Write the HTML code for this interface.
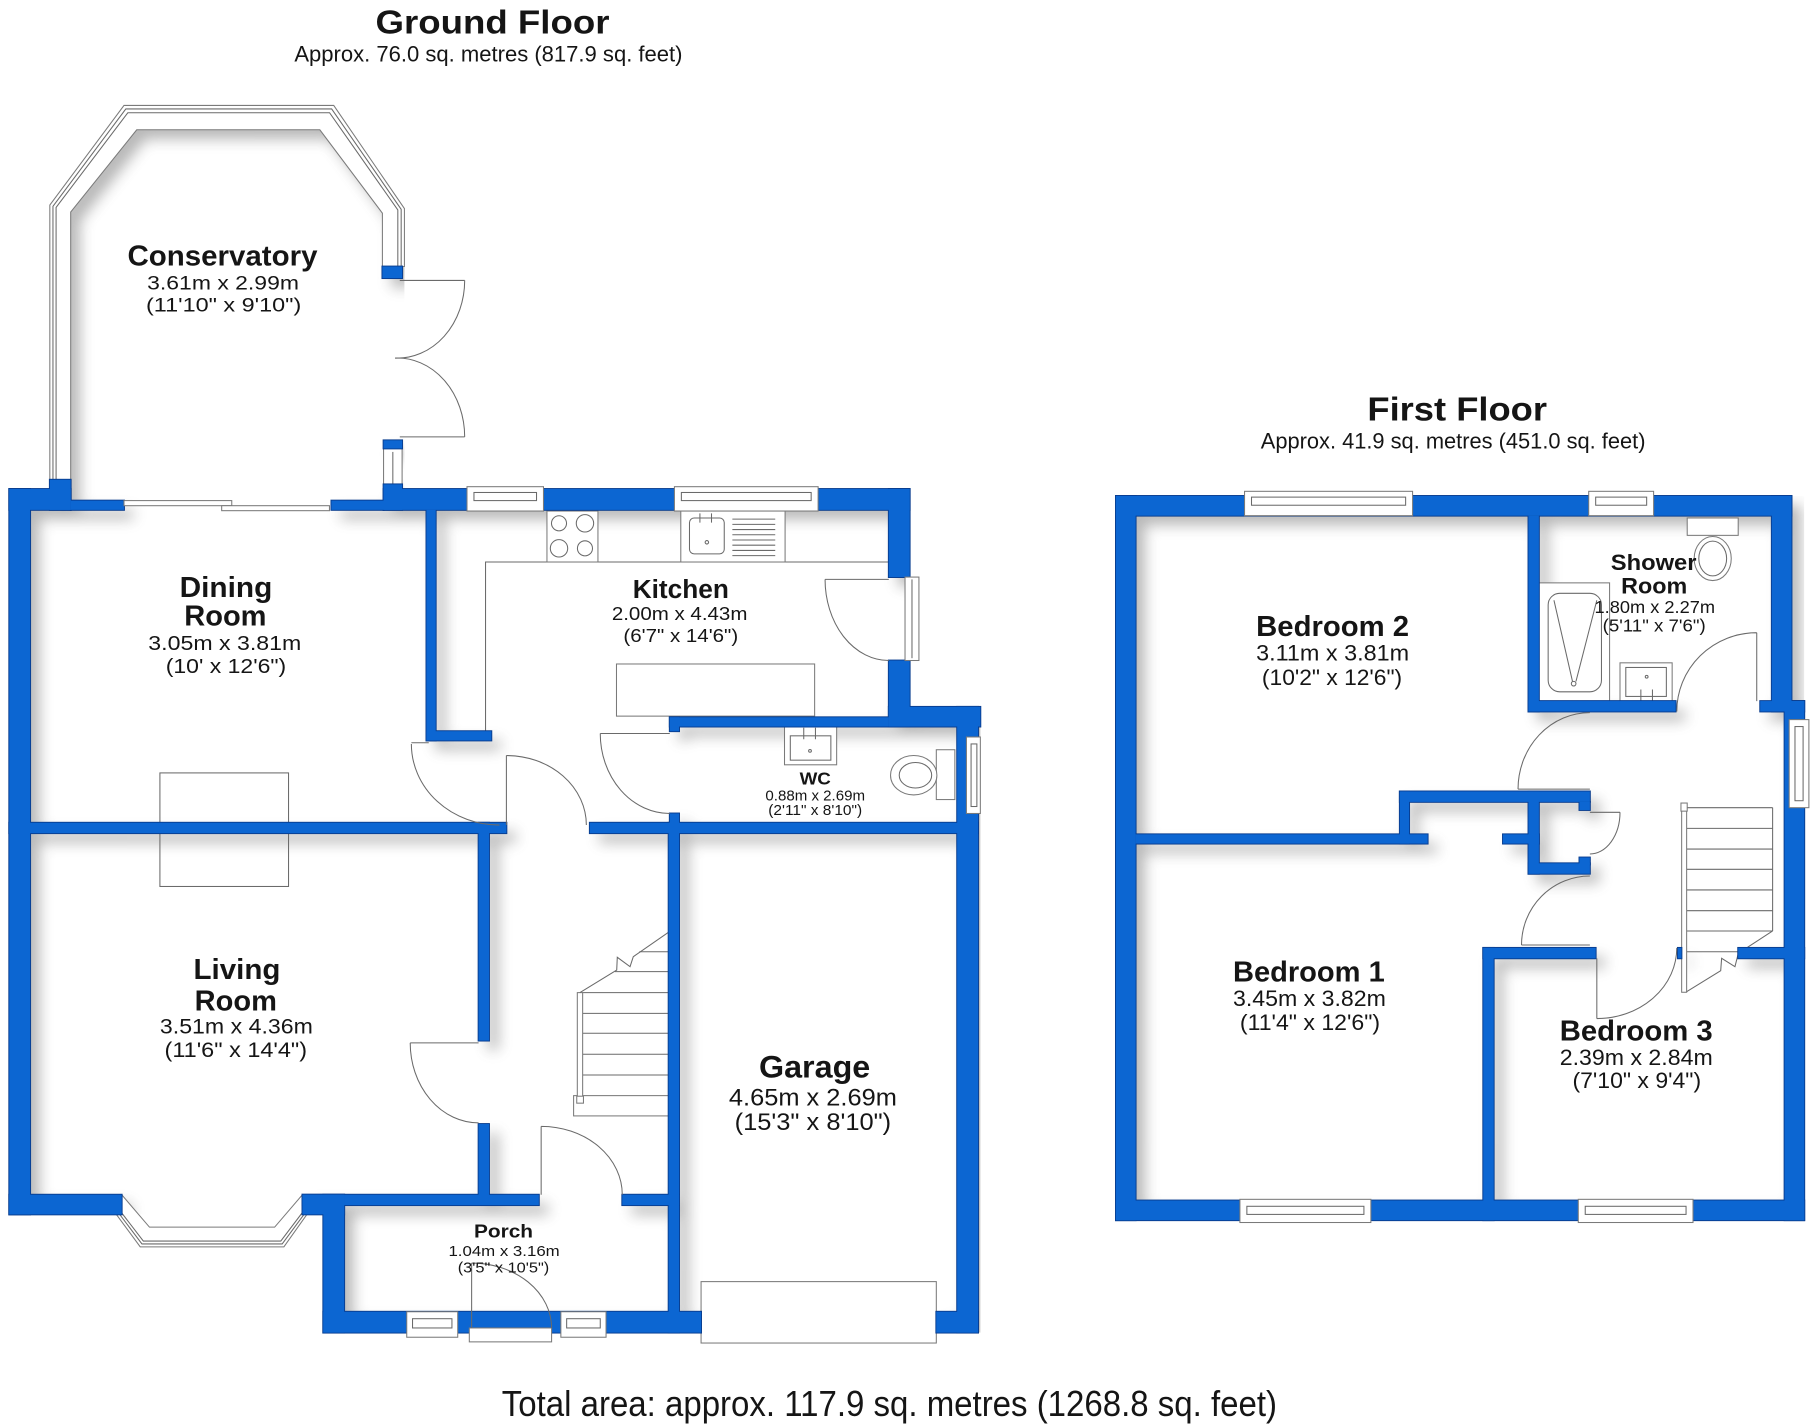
<!DOCTYPE html>
<html><head><meta charset="utf-8"><style>
html,body{margin:0;padding:0;background:#fff}
svg{display:block}
text{font-family:"Liberation Sans Narrow","Liberation Sans",sans-serif;fill:#151515}
.b{font-weight:bold}
.ln{fill:none;stroke:#6a6a6a;stroke-width:0.9}
.wf{fill:#fff;stroke:#7a7a7a;stroke-width:0.9}
</style></head><body>
<svg width="1817" height="1426" viewBox="0 0 1568 1230.6" preserveAspectRatio="none" xmlns="http://www.w3.org/2000/svg" xmlns:xlink="http://www.w3.org/1999/xlink">
<defs>
<filter id="bl" x="-10%" y="-10%" width="120%" height="120%"><feGaussianBlur stdDeviation="6"/></filter>
<clipPath id="cl">
<polygon points="8,422 785,422 785,610 846,610 846,1150 279,1150 279,1048 8,1048"/>
<polygon points="43,416 43,177 107,91 288,91 349,180 349,422 43,422"/>
<rect x="963" y="428" width="594" height="625"/>
</clipPath>
<g id="walls">
<rect x="8" y="422" width="18" height="626"/>
<rect x="8" y="422" width="53" height="18"/>
<rect x="43" y="414" width="18" height="26"/>
<rect x="61" y="432" width="46" height="8"/>
<rect x="286" y="432" width="45" height="8"/>
<rect x="331" y="418" width="16" height="22"/>
<rect x="331" y="422" width="454" height="18"/>
<rect x="331" y="380" width="16" height="7"/>
<rect x="330" y="230" width="17" height="10"/>
<rect x="767" y="422" width="18" height="76"/>
<rect x="767" y="570" width="18" height="57"/>
<rect x="767" y="610" width="79" height="17"/>
<rect x="578" y="619" width="189" height="8"/>
<rect x="578" y="619" width="8" height="12"/>
<rect x="826" y="610" width="18" height="540"/>
<rect x="368" y="440" width="8" height="199"/>
<rect x="368" y="631" width="56" height="8"/>
<rect x="8" y="710" width="429" height="9"/>
<rect x="509" y="710" width="335" height="9"/>
<rect x="413" y="710" width="9" height="188"/>
<rect x="413" y="970" width="9" height="69"/>
<rect x="577" y="710" width="9" height="440"/>
<rect x="578" y="702" width="8" height="9"/>
<rect x="8" y="1031" width="97" height="17"/>
<rect x="261" y="1031" width="204" height="9"/>
<rect x="261" y="1031" width="36" height="17"/>
<rect x="537" y="1031" width="49" height="9"/>
<rect x="279" y="1031" width="18" height="119"/>
<rect x="279" y="1132" width="326" height="18"/>
<rect x="808" y="1132" width="36" height="18"/>
<rect x="963" y="428" width="583" height="17"/>
<rect x="963" y="428" width="17" height="625"/>
<rect x="963" y="1036" width="594" height="17"/>
<rect x="1529" y="428" width="17" height="186"/>
<rect x="1519" y="605" width="38" height="9"/>
<rect x="1540" y="605" width="17" height="448"/>
<rect x="1319" y="445" width="9" height="169"/>
<rect x="1319" y="605" width="127" height="9"/>
<rect x="980" y="720" width="252" height="8"/>
<rect x="1208" y="683" width="8" height="45"/>
<rect x="1208" y="683" width="164" height="9"/>
<rect x="1319" y="683" width="9" height="71"/>
<rect x="1319" y="745" width="53" height="9"/>
<rect x="1363" y="692" width="9" height="7"/>
<rect x="1363" y="740" width="9" height="6"/>
<rect x="1297" y="720" width="31" height="8"/>
<rect x="1280" y="818" width="9" height="235"/>
<rect x="1280" y="818" width="97" height="9"/>
<rect x="1500" y="818" width="57" height="9"/>
<rect x="1448" y="818" width="3" height="9"/>
</g>
</defs>

<rect x="0" y="0" width="1568" height="1231" fill="#fff"/>

<!-- interior shadows -->
<g clip-path="url(#cl)">
<g transform="translate(8,8)" filter="url(#bl)" opacity="0.42" fill="#555">
<use xlink:href="#walls"/>
<polygon points="43,416 43,177 107,91 288,91 349,180 349,230 330,230 330,184 276,112 118,112 61,183 61,416"/>
</g>
</g>

<!-- Titles -->
<text class="b" x="324" y="29" font-size="29" textLength="202" lengthAdjust="spacingAndGlyphs">Ground Floor</text>
<text x="254" y="53" font-size="19" textLength="335" lengthAdjust="spacingAndGlyphs">Approx. 76.0 sq. metres (817.9 sq. feet)</text>
<text class="b" x="1180" y="363" font-size="29" textLength="155" lengthAdjust="spacingAndGlyphs">First Floor</text>
<text x="1088" y="387" font-size="19" textLength="332" lengthAdjust="spacingAndGlyphs">Approx. 41.9 sq. metres (451.0 sq. feet)</text>
<text x="433" y="1222" font-size="31" textLength="669" lengthAdjust="spacingAndGlyphs">Total area: approx. 117.9 sq. metres (1268.8 sq. feet)</text>

<!-- Conservatory frame -->
<polygon class="wf" points="43,416 43,177 107,91 288,91 349,180 349,230 330,230 330,184 276,112 118,112 61,183 61,416"/>
<polyline class="ln" points="45.7,416 45.7,178 108.6,94 286.2,94 346.2,180.6 346.2,230"/>
<polyline class="ln" points="48.4,416 48.4,179 110.3,97.3 284.4,97.3 343.3,181.2 343.3,230"/>
<rect class="wf" x="331" y="387" width="16" height="35"/>
<line class="ln" x1="339" y1="390" x2="339" y2="420"/>

<!-- Bay window -->
<polygon class="wf" points="93,1038 121,1076 245,1076 272,1038 261,1031 237,1059 129,1059 105,1031"/>
<polyline class="ln" points="95,1037 122.5,1073.5 243.5,1073.5 270.5,1037"/>
<polyline class="ln" points="96.8,1036 123.7,1071 242.3,1071 268.8,1036"/>

<!-- dining/living chimney rect -->
<rect class="ln" x="138" y="667" width="111" height="98"/>

<!-- Kitchen fixtures -->
<polyline class="ln" points="419,639 419,485 767,485"/>
<rect class="wf" x="472" y="441" width="44" height="44"/>
<circle class="ln" cx="482.4" cy="451.6" r="6.5"/>
<circle class="ln" cx="504.8" cy="451.6" r="7.5"/>
<circle class="ln" cx="482.4" cy="473.2" r="7.5"/>
<circle class="ln" cx="504.8" cy="473.2" r="6.5"/>
<rect class="wf" x="587.5" y="441" width="90" height="44"/>
<rect class="ln" x="595" y="447" width="30" height="31" rx="4"/>
<path class="ln" d="M604,443 L604,451 M614,443 L614,451 M632,448 L669,448 M632,452.5 L669,452.5 M632,457 L669,457 M632,461.5 L669,461.5 M632,466 L669,466 M632,470.5 L669,470.5 M632,475 L669,475 M632,479.5 L669,479.5"/>
<circle class="ln" cx="610" cy="468" r="1.5"/>
<rect class="wf" x="532" y="573" width="171" height="45"/>

<!-- WC fixtures -->
<rect class="wf" x="677" y="627" width="45" height="33"/>
<rect class="ln" x="682" y="635" width="35" height="21"/>
<path class="ln" d="M693.6,628 L693.6,638 M703.7,628 L703.7,638"/>
<circle class="ln" cx="699" cy="648" r="1.2"/>
<rect class="wf" x="808" y="647" width="16" height="43"/>
<ellipse class="wf" cx="788.5" cy="669" rx="20" ry="17"/>
<ellipse class="ln" cx="790" cy="669" rx="14" ry="11"/>

<!-- Ground stairs -->
<rect class="wf" x="495" y="945.5" width="82.5" height="17.5"/>
<path class="ln" d="M502.8,856.6 L577.6,856.6 M502.8,874.5 L577.6,874.5 M502.8,891.7 L577.6,891.7 M502.8,909.8 L577.6,909.8 M502.8,927.7 L577.6,927.7 M530.7,838.5 L577.6,838.5 M551.7,821.3 L577.6,821.3"/>
<rect class="wf" x="498.2" y="856.6" width="4.6" height="90"/>
<polyline class="ln" points="577.6,804 546.5,825.6 543.7,834.2 532.7,826.1 532.2,837.1 500.5,856.6"/>
<rect class="wf" x="497.7" y="946" width="5.8" height="6"/>

<!-- Garage door -->
<rect class="wf" x="605" y="1106" width="203" height="53"/>

<!-- Shower room fixtures -->
<rect class="wf" x="1456" y="447" width="44" height="15"/>
<ellipse class="wf" cx="1478" cy="482" rx="16" ry="19"/>
<ellipse class="ln" cx="1478" cy="482" rx="12" ry="15"/>
<rect class="wf" x="1328" y="503" width="61" height="103"/>
<rect class="ln" x="1336" y="512" width="46" height="85" rx="10"/>
<path class="ln" d="M1341,518 L1357,588 M1378,518 L1360,588"/>
<circle class="ln" cx="1358" cy="590" r="2"/>
<rect class="wf" x="1398" y="572" width="45" height="34"/>
<rect class="ln" x="1403" y="576" width="35" height="25"/>
<path class="ln" d="M1416,595 L1416,605 M1426,595 L1426,605"/>
<circle class="ln" cx="1421" cy="584" r="1.2"/>

<!-- First floor stairs -->
<path class="ln" d="M1455.5,697 L1529.7,697 M1455.5,714.9 L1529.7,714.9 M1455.5,732.7 L1529.7,732.7 M1455.5,750.2 L1529.7,750.2 M1455.5,768 L1529.7,768 M1455.5,785.9 L1529.7,785.9 M1455.5,803.4 L1529.7,803.4 M1455.5,821.3 L1500,821.3 M1529.7,697 L1529.7,803.4"/>
<rect class="wf" x="1451.2" y="697" width="4.3" height="159.3"/>
<polyline class="ln" points="1529.7,803.4 1500.1,822.7 1497.2,834.2 1485.7,827 1484.9,837.7 1455.5,855.8"/>
<rect class="wf" x="1450.6" y="693" width="5.4" height="7"/>

<!-- Walls: edge pass then fill pass -->
<use xlink:href="#walls" fill="#083c8e" stroke="#083c8e" stroke-width="1.6"/>
<use xlink:href="#walls" fill="#0c66d2"/>

<!-- Windows ground -->
<rect class="wf" x="403" y="420" width="66" height="21"/>
<rect class="ln" x="409" y="425" width="54" height="7"/>
<rect class="wf" x="582" y="420" width="124" height="21"/>
<rect class="ln" x="588" y="425" width="112" height="7"/>
<rect class="wf" x="834" y="636" width="12" height="66"/>
<rect class="ln" x="838" y="642" width="5" height="54"/>
<rect class="wf" x="781" y="498" width="12" height="72"/>
<line class="ln" x1="787" y1="500" x2="787" y2="568"/>
<rect class="wf" x="107" y="432" width="93" height="4.4"/>
<rect class="wf" x="191.3" y="436.4" width="93" height="4.3"/>
<rect class="wf" x="351" y="1132" width="44" height="22"/>
<rect class="ln" x="356" y="1138" width="34" height="8"/>
<rect class="wf" x="484" y="1132" width="39" height="22"/>
<rect class="ln" x="489" y="1138" width="29" height="8"/>
<rect class="wf" x="405" y="1146" width="71" height="12"/>

<!-- Windows first -->
<rect class="wf" x="1074" y="424" width="145" height="21"/>
<rect class="ln" x="1080" y="429" width="133" height="7"/>
<rect class="wf" x="1371" y="424" width="56" height="21"/>
<rect class="ln" x="1377" y="429" width="44" height="7"/>
<rect class="wf" x="1070" y="1035" width="113" height="20"/>
<rect class="ln" x="1076" y="1041" width="101" height="7"/>
<rect class="wf" x="1362" y="1035" width="99" height="20"/>
<rect class="ln" x="1368" y="1041" width="87" height="7"/>
<rect class="wf" x="1544" y="621" width="17" height="76"/>
<rect class="ln" x="1549" y="627" width="7" height="64"/>

<!-- Doors ground -->
<path class="ln" d="M345,242 L401,242 M401,242 A58 67 0 0 1 341,309"/>
<path class="ln" d="M345,377 L401,377 M401,377 A58 68 0 0 0 341,309"/>
<path class="ln" d="M712,500 L767,500 M712,500 A55 70 0 0 0 767,570"/>
<path class="ln" d="M355,641 L370,641 M355,642 A76 70 0 0 0 431,712"/>
<path class="ln" d="M437,652 L437,712 M437,652 A69 60 0 0 1 506,712"/>
<path class="ln" d="M518,633 L578,633 M518,633 A60 69 0 0 0 578,702"/>
<path class="ln" d="M354,900 L413,900 M354,900 A59 69 0 0 0 413,969"/>
<path class="ln" d="M467,972 L467,1031 M467,972 A70 59 0 0 1 537,1031"/>
<path class="ln" d="M407,1090 L407,1146 M407,1090 A69 56 0 0 1 476,1146"/>

<!-- Doors first -->
<path class="ln" d="M1516,546 L1516,605 M1516,546 A69 68 0 0 0 1447,614"/>
<path class="ln" d="M1310,681 L1372,681 M1310,681 A62 66 0 0 1 1372,615"/>
<path class="ln" d="M1372,701 L1398,701 M1398,701 A26 36 0 0 1 1372,737"/>
<path class="ln" d="M1313,815.5 L1372,815.5 M1313,815.5 A59 59.5 0 0 1 1372,756"/>
<path class="ln" d="M1378,827 L1378,879 M1378,879 A69 61 0 0 0 1447,818"/>

<!-- Room labels ground -->
<text class="b" x="110" y="229" font-size="25" textLength="164" lengthAdjust="spacingAndGlyphs">Conservatory</text>
<text x="127" y="250" font-size="17" textLength="131" lengthAdjust="spacingAndGlyphs">3.61m x 2.99m</text>
<text x="126" y="269" font-size="17" textLength="134" lengthAdjust="spacingAndGlyphs">(11'10" x 9'10")</text>

<text class="b" x="155" y="515" font-size="25" textLength="80" lengthAdjust="spacingAndGlyphs">Dining</text>
<text class="b" x="159" y="540" font-size="25" textLength="71" lengthAdjust="spacingAndGlyphs">Room</text>
<text x="128" y="561" font-size="17.5" textLength="132" lengthAdjust="spacingAndGlyphs">3.05m x 3.81m</text>
<text x="143" y="581" font-size="17.5" textLength="104" lengthAdjust="spacingAndGlyphs">(10' x 12'6")</text>

<text class="b" x="546" y="516" font-size="22" textLength="83" lengthAdjust="spacingAndGlyphs">Kitchen</text>
<text x="528" y="535" font-size="16" textLength="117" lengthAdjust="spacingAndGlyphs">2.00m x 4.43m</text>
<text x="538" y="554" font-size="16" textLength="99" lengthAdjust="spacingAndGlyphs">(6'7" x 14'6")</text>

<text class="b" x="690" y="677" font-size="15" textLength="27" lengthAdjust="spacingAndGlyphs">WC</text>
<text x="660.5" y="691" font-size="12.5" textLength="86" lengthAdjust="spacingAndGlyphs">0.88m x 2.69m</text>
<text x="663" y="703.5" font-size="12.5" textLength="81" lengthAdjust="spacingAndGlyphs">(2'11" x 8'10")</text>

<text class="b" x="167" y="845" font-size="25" textLength="75" lengthAdjust="spacingAndGlyphs">Living</text>
<text class="b" x="168" y="872" font-size="25" textLength="71" lengthAdjust="spacingAndGlyphs">Room</text>
<text x="138" y="892" font-size="18" textLength="132" lengthAdjust="spacingAndGlyphs">3.51m x 4.36m</text>
<text x="142" y="912" font-size="18" textLength="123" lengthAdjust="spacingAndGlyphs">(11'6" x 14'4")</text>

<text class="b" x="655" y="930" font-size="27" textLength="96" lengthAdjust="spacingAndGlyphs">Garage</text>
<text x="629" y="954" font-size="21" textLength="145" lengthAdjust="spacingAndGlyphs">4.65m x 2.69m</text>
<text x="634" y="975" font-size="21" textLength="135" lengthAdjust="spacingAndGlyphs">(15'3" x 8'10")</text>

<text class="b" x="409" y="1068" font-size="16" textLength="51" lengthAdjust="spacingAndGlyphs">Porch</text>
<text x="387" y="1084" font-size="13" textLength="96" lengthAdjust="spacingAndGlyphs">1.04m x 3.16m</text>
<text x="395" y="1098" font-size="13" textLength="79" lengthAdjust="spacingAndGlyphs">(3'5" x 10'5")</text>

<!-- Room labels first -->
<text class="b" x="1084" y="549" font-size="25" textLength="132" lengthAdjust="spacingAndGlyphs">Bedroom 2</text>
<text x="1084" y="570" font-size="19" textLength="132" lengthAdjust="spacingAndGlyphs">3.11m x 3.81m</text>
<text x="1089" y="591" font-size="19" textLength="121" lengthAdjust="spacingAndGlyphs">(10'2" x 12'6")</text>

<text class="b" x="1390" y="492" font-size="19" textLength="74" lengthAdjust="spacingAndGlyphs">Shower</text>
<text class="b" x="1399" y="512" font-size="19" textLength="57" lengthAdjust="spacingAndGlyphs">Room</text>
<text x="1376" y="529" font-size="15.5" textLength="104" lengthAdjust="spacingAndGlyphs">1.80m x 2.27m</text>
<text x="1383" y="545" font-size="15.5" textLength="89" lengthAdjust="spacingAndGlyphs">(5'11" x 7'6")</text>

<text class="b" x="1064" y="847" font-size="25" textLength="131" lengthAdjust="spacingAndGlyphs">Bedroom 1</text>
<text x="1064" y="868" font-size="19" textLength="132" lengthAdjust="spacingAndGlyphs">3.45m x 3.82m</text>
<text x="1070" y="889" font-size="19" textLength="121" lengthAdjust="spacingAndGlyphs">(11'4" x 12'6")</text>

<text class="b" x="1346" y="898" font-size="25" textLength="132" lengthAdjust="spacingAndGlyphs">Bedroom 3</text>
<text x="1346" y="919" font-size="19" textLength="132" lengthAdjust="spacingAndGlyphs">2.39m x 2.84m</text>
<text x="1357" y="939" font-size="19" textLength="111" lengthAdjust="spacingAndGlyphs">(7'10" x 9'4")</text>
</svg>
</body></html>
